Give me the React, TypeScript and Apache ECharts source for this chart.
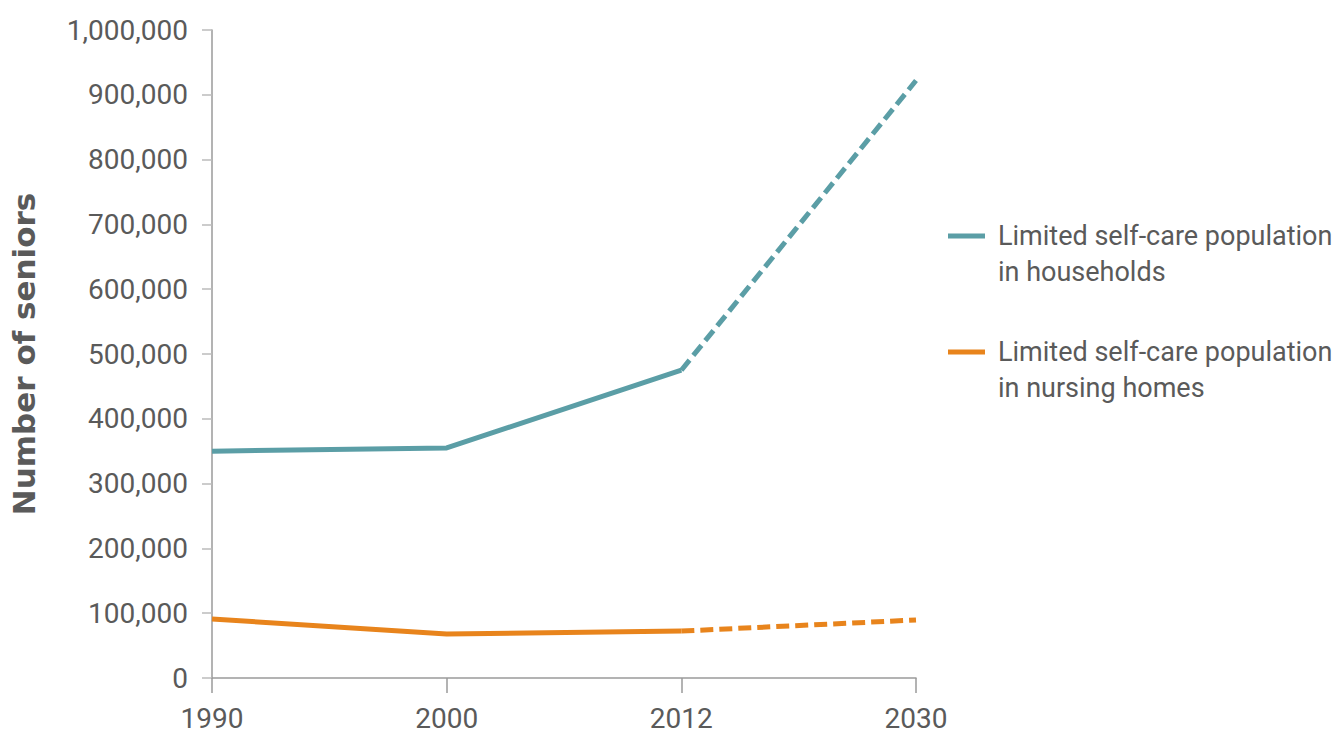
import React, { useEffect, useRef } from "react";
import * as echarts from "echarts";

const years = ["1990", "2000", "2012", "2030"];
const households = [350000, 355000, 475000, 922000];
const nursingHomes = [91000, 68000, 72500, 89500];
const projectionStartIndex = 2;
const yTicks = { min: 0, max: 1000000, interval: 100000 };
const seriesNames = [
  "Limited self-care population in households",
  "Limited self-care population in nursing homes",
];
const legendLines = [
  ["Limited self-care population", "in households"],
  ["Limited self-care population", "in nursing homes"],
];

const TEAL = "#5b9ea6";
const ORANGE = "#e8841c";
const TEXT = "#5a5a5a";
const FONT = "Roboto";

function solidPart(arr: number[]) {
  return arr.map((v, i) => (i <= projectionStartIndex ? v : null));
}
function dashedPart(arr: number[]) {
  return arr.map((v, i) => (i >= projectionStartIndex ? v : null));
}

export default function App() {
  const ref = useRef<HTMLDivElement>(null);
  useEffect(() => {
    document.body.style.margin = "0";
    if (!ref.current) return;
    const chart = echarts.init(ref.current, undefined, { renderer: "svg" });
    const colors = [TEAL, ORANGE];
    const datasets = [households, nursingHomes];
    const series: any[] = [];
    datasets.forEach((d, k) => {
      series.push({
        name: seriesNames[k],
        type: "line",
        data: solidPart(d),
        symbol: "none",
        lineStyle: { color: colors[k], width: 5 },
        itemStyle: { color: colors[k] },
        z: 3,
      });
      series.push({
        name: seriesNames[k] + " (projected)",
        type: "line",
        data: dashedPart(d),
        symbol: "none",
        lineStyle: { color: colors[k], width: 5, type: [13, 6] },
        itemStyle: { color: colors[k] },
        z: 3,
      });
    });

    const graphics: any[] = [];
    const legendY = [236, 352];
    legendLines.forEach((lines, k) => {
      graphics.push({
        type: "line",
        shape: { x1: 948, y1: legendY[k], x2: 985, y2: legendY[k] },
        style: { stroke: colors[k], lineWidth: 5 },
      });
      graphics.push({
        type: "text",
        x: 998,
        y: legendY[k] - 18,
        style: {
          text: lines.join("\n"),
          font: `27px ${FONT}`,
          fill: TEXT,
          lineHeight: 36,
          verticalAlign: "top",
          align: "left",
        },
      });
    });

    chart.setOption({
      animation: false,
      backgroundColor: "#fff",
      grid: { left: 208, right: 423, top: 30, bottom: 63, containLabel: false },
      xAxis: {
        type: "category",
        data: years,
        boundaryGap: false,
        axisLine: { lineStyle: { color: "#9a9a9a", width: 1.5 } },
        axisTick: { show: true, length: 15, lineStyle: { color: "#9a9a9a", width: 1.5 } },
        axisLabel: { color: TEXT, fontSize: 28, fontFamily: FONT, margin: 26 },
        splitLine: { show: false },
      },
      yAxis: {
        type: "value",
        min: yTicks.min,
        max: yTicks.max,
        interval: yTicks.interval,
        name: "Number of seniors",
        nameLocation: "middle",
        nameGap: 173,
        nameRotate: 90,
        nameTextStyle: { color: TEXT, fontSize: 31, fontWeight: "bold", fontFamily: "DejaVu Sans" },
        axisLine: { show: true, lineStyle: { color: "#9a9a9a", width: 1.5 } },
        axisTick: { show: true, length: 10, lineStyle: { color: "#bbbbbb", width: 1.5 } },
        axisLabel: {
          color: TEXT,
          fontSize: 28,
          fontFamily: FONT,
          margin: 24,
          formatter: (v: number) => v.toLocaleString("en-US"),
        },
        splitLine: { show: false },
      },
      series,
      graphic: graphics,
    });
    return () => chart.dispose();
  }, []);
  return <div ref={ref} style={{ width: 1339, height: 741 }} />;
}
